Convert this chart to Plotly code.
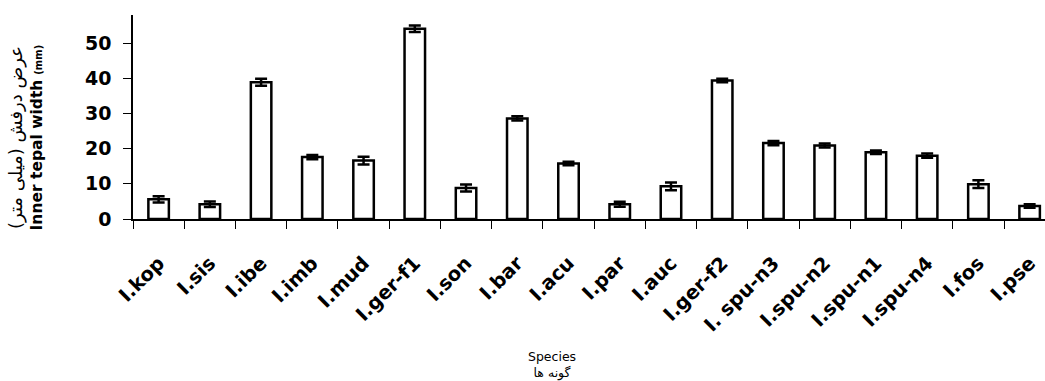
import plotly.graph_objects as go

species = ["I.kop", "I.sis", "I.ibe", "I.imb", "I.mud", "I.ger-f1", "I.son", "I.bar",
           "I.acu", "I.par", "I.auc", "I.ger-f2", "I. spu-n3", "I.spu-n2", "I.spu-n1",
           "I.spu-n4", "I.fos", "I.pse"]
widths = [5.6, 4.2, 38.9, 17.6, 16.6, 54.1, 8.8, 28.6, 15.8, 4.2, 9.3, 39.4, 21.6, 20.9,
          19.0, 18.0, 9.9, 3.7]
errors = [0.9, 0.8, 1.0, 0.6, 1.1, 0.9, 1.0, 0.6, 0.5, 0.7, 1.1, 0.5, 0.6, 0.6, 0.5, 0.6,
          1.1, 0.5]
y_ticks = [0, 10, 20, 30, 40, 50]

xs = list(range(len(species)))

fig = go.Figure()
fig.add_trace(go.Bar(
    x=xs, y=widths, width=0.4,
    marker=dict(color="white", line=dict(color="black", width=2.5)),
    error_y=dict(type="data", array=errors, visible=True, color="black",
                 thickness=2.5, width=6),
    showlegend=False,
))
# invisible helper trace carrying the category labels axis
fig.add_trace(go.Scatter(x=xs, y=widths, xaxis="x2", mode="markers",
                         marker=dict(opacity=0), showlegend=False, hoverinfo="skip"))

fig.update_layout(
    width=1045, height=381,
    margin=dict(l=133, r=0, t=15, b=162),
    plot_bgcolor="white", paper_bgcolor="white",
    xaxis=dict(
        range=[-0.5, 17.3],
        tickmode="linear", tick0=0.5, dtick=1,
        ticks="outside", ticklen=8, tickwidth=1.2, tickcolor="black",
        showticklabels=False,
        showline=True, linecolor="black", linewidth=1.5,
        showgrid=False, zeroline=False,
    ),
    xaxis2=dict(
        overlaying="x", anchor="y", side="bottom",
        range=[-0.5, 17.3],
        tickmode="array", tickvals=xs, ticktext=species,
        tickangle=-45, ticks="outside", ticklen=24, tickcolor="rgba(0,0,0,0)",
        tickfont=dict(family="DejaVu Sans", size=19.5, color="black", weight="bold"),
        showline=False, showgrid=False, zeroline=False,
    ),
    yaxis=dict(
        range=[0, 58],
        tickmode="array", tickvals=y_ticks,
        ticks="outside", ticklen=8, tickwidth=1.2, tickcolor="black",
        ticklabelstandoff=8,
        tickfont=dict(family="DejaVu Sans", size=19, color="black", weight="bold"),
        showline=True, linecolor="black", linewidth=1.5,
        showgrid=False, zeroline=False,
    ),
)

fig.add_annotation(
    xref="paper", yref="paper", x=0, y=0.40, xanchor="center", yanchor="middle",
    xshift=-108, textangle=-90, showarrow=False, align="center",
    text="<span style='font-size:18px'>عرض درفش (میلی متر)</span><br><b>Inner tepal width</b> <b><span style='font-size:10px'>(mm)</span></b>",
    font=dict(family="DejaVu Sans", size=15.5, color="black"),
)

fig.add_annotation(
    xref="paper", yref="paper", x=0, y=0, xanchor="center", yanchor="middle",
    xshift=552 - 133, yshift=-146, showarrow=False, align="center",
    text="Species<br>گونه ها",
    font=dict(family="DejaVu Sans", size=12.5, color="black"),
)

fig.write_html("out.html")
